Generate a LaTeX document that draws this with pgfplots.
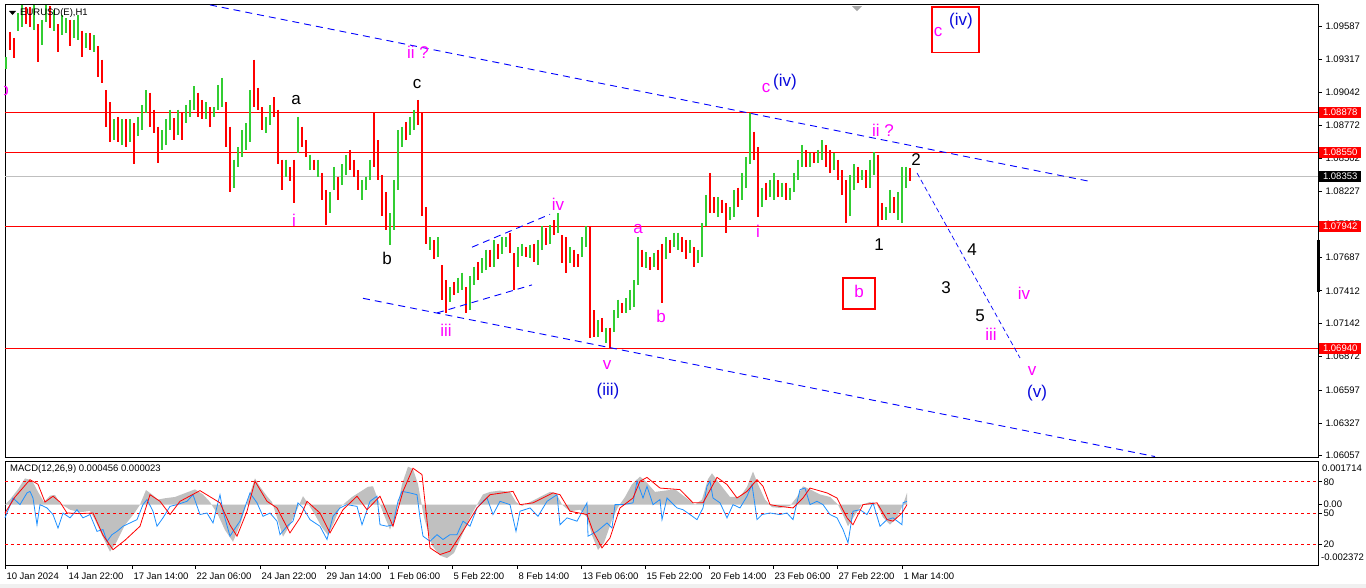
\documentclass[border=0pt]{standalone}
\usepackage{fontspec}
\setmainfont{Liberation Sans}
\usepackage{pgfplots}
\usepackage{pgfplotstable}
\pgfplotsset{compat=1.18}

\definecolor{barup}{RGB}{50,205,50}
\definecolor{bardn}{RGB}{255,0,0}
\definecolor{wmag}{RGB}{255,0,255}
\definecolor{wblue}{RGB}{10,10,220}
\definecolor{chan}{RGB}{0,0,255}
\definecolor{hist}{RGB}{192,192,192}
\definecolor{osc}{RGB}{30,144,255}

\newcommand\wl{\fontsize{17}{20}\selectfont}
\newcommand\tk{\fontsize{9.5}{11}\selectfont}

% H1 bars, sampled: x (chart position), low, high, up(1)/down(0)
\pgfplotstableread{
x lo hi d
6 1.0923 1.0933 1
10 1.0939 1.0954 0
14 1.0932 1.0949 0
18 1.0955 1.0969 1
22 1.0958 1.0976 1
26 1.0960 1.0974 0
30 1.0958 1.0974 0
34 1.0955 1.0976 1
38 1.0929 1.0960 0
42 1.0943 1.0964 1
46 1.0962 1.0976 1
50 1.0957 1.0975 0
54 1.0955 1.0972 1
58 1.0937 1.0960 0
62 1.0951 1.0968 1
66 1.0953 1.0965 1
70 1.0942 1.0964 0
74 1.0949 1.0964 1
78 1.0947 1.0968 1
82 1.0933 1.0955 0
86 1.0941 1.0953 1
90 1.0939 1.0953 0
94 1.0937 1.0951 1
98 1.0917 1.0942 0
102 1.0912 1.0931 0
106 1.0876 1.0906 0
110 1.0863 1.0896 0
114 1.0865 1.0882 1
118 1.0863 1.0884 0
122 1.0861 1.0882 1
126 1.0859 1.0882 0
130 1.0863 1.0882 1
134 1.0845 1.0879 0
138 1.0868 1.0884 1
142 1.0873 1.0894 1
146 1.0887 1.0906 1
150 1.0876 1.0904 0
154 1.0871 1.0890 0
158 1.0846 1.0876 0
162 1.0857 1.0873 1
166 1.0861 1.0882 1
170 1.0873 1.0890 1
174 1.0865 1.0883 0
178 1.0869 1.0890 1
182 1.0865 1.0888 0
186 1.0879 1.0894 1
190 1.0884 1.0898 1
194 1.0890 1.0909 1
198 1.0884 1.0904 0
202 1.0882 1.0898 0
206 1.0882 1.0896 1
210 1.0876 1.0892 0
214 1.0884 1.0892 1
218 1.0890 1.0910 1
222 1.0892 1.0916 1
226 1.0859 1.0896 0
230 1.0822 1.0876 0
234 1.0826 1.0849 1
238 1.0843 1.0859 1
242 1.0851 1.0873 1
246 1.0857 1.0879 1
250 1.0863 1.0906 1
254 1.0892 1.0931 0
258 1.0890 1.0908 0
262 1.0873 1.0892 0
266 1.0871 1.0884 1
270 1.0877 1.0894 1
274 1.0884 1.0900 0
278 1.0845 1.0890 0
282 1.0824 1.0849 0
286 1.0835 1.0849 1
290 1.0831 1.0843 0
294 1.0813 1.0849 0
298 1.0854 1.0884 1
302 1.0859 1.0876 0
306 1.0851 1.0865 0
310 1.0840 1.0853 1
314 1.0840 1.0849 0
318 1.0835 1.0849 1
322 1.0816 1.0838 0
326 1.0795 1.0824 0
330 1.0805 1.0822 1
334 1.0824 1.0843 1
338 1.0816 1.0835 0
342 1.0828 1.0845 1
346 1.0836 1.0853 1
350 1.0840 1.0857 0
354 1.0835 1.0849 0
358 1.0824 1.0840 0
362 1.0816 1.0832 1
366 1.0824 1.0835 1
370 1.0832 1.0849 1
374 1.0843 1.0887 0
378 1.0832 1.0865 0
382 1.0803 1.0836 0
386 1.0791 1.0822 0
390 1.0779 1.0805 1
394 1.0791 1.0832 1
398 1.0824 1.0873 1
402 1.0859 1.0876 1
406 1.0865 1.0880 0
410 1.0869 1.0884 1
414 1.0873 1.0890 1
418 1.0877 1.0898 0
422 1.0803 1.0887 0
426 1.0780 1.0810 0
430 1.0775 1.0785 1
434 1.0767 1.0783 0
438 1.0769 1.0785 1
442 1.0734 1.0762 0
446 1.0723 1.0750 0
450 1.0732 1.0744 1
454 1.0738 1.0748 0
458 1.0739 1.0752 1
462 1.0742 1.0756 1
466 1.0723 1.0744 0
470 1.0725 1.0753 1
474 1.0746 1.0761 1
478 1.0750 1.0765 0
482 1.0756 1.0768 1
486 1.0758 1.0775 1
490 1.0761 1.0775 0
494 1.0761 1.0783 1
498 1.0767 1.0780 0
502 1.0771 1.0785 1
506 1.0777 1.0785 1
510 1.0772 1.0789 0
514 1.0742 1.0772 0
518 1.0761 1.0777 1
522 1.0770 1.0780 1
526 1.0769 1.0777 0
530 1.0768 1.0779 1
534 1.0765 1.0780 0
538 1.0762 1.0783 1
542 1.0775 1.0794 1
546 1.0779 1.0793 0
550 1.0780 1.0795 1
554 1.0787 1.0799 0
558 1.0789 1.0805 1
562 1.0764 1.0787 0
566 1.0756 1.0785 0
570 1.0764 1.0777 1
574 1.0761 1.0775 0
578 1.0761 1.0771 0
582 1.0769 1.0785 1
586 1.0777 1.0794 1
590 1.0702 1.0794 0
594 1.0703 1.0725 0
598 1.0703 1.0717 1
602 1.0707 1.0719 0
606 1.0698 1.0711 1
610 1.0694 1.0711 0
614 1.0707 1.0725 1
618 1.0719 1.0734 1
622 1.0723 1.0731 0
626 1.0723 1.0735 1
630 1.0725 1.0742 1
634 1.0728 1.0750 1
638 1.0746 1.0785 1
642 1.0761 1.0775 0
646 1.0760 1.0773 1
650 1.0758 1.0769 0
654 1.0761 1.0772 1
658 1.0758 1.0775 0
662 1.0731 1.0780 0
666 1.0767 1.0785 1
670 1.0772 1.0783 0
674 1.0777 1.0789 1
678 1.0775 1.0789 1
682 1.0773 1.0785 0
686 1.0767 1.0783 0
690 1.0772 1.0783 1
694 1.0761 1.0777 0
698 1.0764 1.0775 1
702 1.0769 1.0797 1
706 1.0794 1.0820 1
710 1.0805 1.0838 0
714 1.0805 1.0818 0
718 1.0802 1.0818 1
722 1.0805 1.0816 0
726 1.0789 1.0813 0
730 1.0799 1.0810 1
734 1.0802 1.0824 1
738 1.0810 1.0826 0
742 1.0816 1.0838 1
746 1.0826 1.0851 1
750 1.0845 1.0887 1
754 1.0849 1.0872 0
758 1.0802 1.0859 0
762 1.0810 1.0826 1
766 1.0816 1.0830 0
770 1.0818 1.0832 1
774 1.0816 1.0838 1
778 1.0818 1.0832 0
782 1.0818 1.0830 1
786 1.0816 1.0830 0
790 1.0816 1.0826 1
794 1.0822 1.0838 1
798 1.0832 1.0849 1
802 1.0843 1.0861 1
806 1.0843 1.0857 0
810 1.0843 1.0854 1
814 1.0846 1.0854 0
818 1.0846 1.0857 1
822 1.0849 1.0865 1
826 1.0843 1.0861 0
830 1.0838 1.0857 0
834 1.0840 1.0854 1
838 1.0832 1.0849 0
842 1.0820 1.0840 0
846 1.0797 1.0832 0
850 1.0803 1.0836 1
854 1.0824 1.0845 1
858 1.0830 1.0843 0
862 1.0832 1.0840 1
866 1.0826 1.0840 0
870 1.0826 1.0849 1
874 1.0836 1.0855 1
878 1.0794 1.0853 0
882 1.0799 1.0813 0
886 1.0799 1.0810 1
890 1.0805 1.0824 1
894 1.0805 1.0818 0
898 1.0799 1.0822 1
902 1.0797 1.0843 1
906 1.0826 1.0843 1
910 1.0831 1.0842 0
}\bars

\begin{document}
\begin{tikzpicture}[x=1pt,y=1pt]
\useasboundingbox (0,0) rectangle (1366,588);
\fill[white] (0,0) rectangle (1366,588);
\fill[black!6] (0,0) rectangle (1366,4);

% ---------------- price panel ----------------
\begin{axis}[
    at={(5pt,130.5pt)}, anchor=south west, scale only axis,
    width=1313pt, height=453.5pt,
    xmin=5, xmax=1318, ymin=1.060422, ymax=1.097678,
    axis line style={line width=0.8pt},
    xtick=\empty,
    ytick pos=right, tick align=outside, major tick length=4pt,
    tick style={black, line width=0.6pt},
    ytick={1.06057,1.06327,1.06597,1.06872,1.07142,1.07412,1.07687,1.07957,1.08227,1.08502,1.08772,1.09042,1.09317,1.09587},
    yticklabels={1.06057,1.06327,1.06597,1.06872,1.07142,1.07412,1.07687,1.07957,1.08227,1.08502,1.08772,1.09042,1.09317,1.09587},
    yticklabel style={font=\tk},
    clip=false,
  ]
  % levels
  \addplot[black!25, line width=0.8pt] coordinates {(5,1.08353) (1318,1.08353)};
  \addplot[red, line width=1pt] coordinates {(5,1.08878) (1318,1.08878)};
  \addplot[red, line width=1pt] coordinates {(5,1.08550) (1318,1.08550)};
  \addplot[red, line width=1pt] coordinates {(5,1.07942) (1318,1.07942)};
  \addplot[red, line width=1pt] coordinates {(5,1.06940) (1318,1.06940)};

  % bars
  \addplot[draw=none, mark=none, forget plot,
    x filter/.expression={\thisrow{d}==1 ? x : nan},
    error bars/.cd, y dir=minus, y explicit, error mark=none,
    error bar style={draw=barup, line width=2.4pt}]
    table[x=x, y=hi, y error expr=\thisrow{hi}-\thisrow{lo}] {\bars};
  \addplot[draw=none, mark=none, forget plot,
    x filter/.expression={\thisrow{d}==0 ? x : nan},
    error bars/.cd, y dir=minus, y explicit, error mark=none,
    error bar style={draw=bardn, line width=2.4pt}]
    table[x=x, y=hi, y error expr=\thisrow{hi}-\thisrow{lo}] {\bars};

  % channel lines
  \addplot[chan, line width=0.9pt, dash pattern=on 7pt off 5pt] coordinates {(210,1.0976) (1090,1.0831)};
  \addplot[chan, line width=0.9pt, dash pattern=on 7pt off 5pt] coordinates {(363,1.0735) (1155,1.0605)};
  \addplot[chan, line width=0.9pt, dash pattern=on 7pt off 5pt] coordinates {(472,1.0777) (550,1.0804)};
  \addplot[chan, line width=0.9pt, dash pattern=on 7pt off 5pt] coordinates {(437,1.0723) (532,1.0746)};
  \addplot[chan, line width=0.7pt, dash pattern=on 5pt off 3pt] coordinates {(917,1.0838) (1020,1.0686)};

  % wave labels
  \begin{scope}
    \clip (axis cs:5,1.0930) rectangle (axis cs:30,1.0885);
    \node[text=wmag, font=\wl] at (axis cs:4,1.0907) {b};
  \end{scope}
  \node[text=wmag, font=\wl] at (axis cs:418,1.0937) {ii ?};
  \node[text=black, font=\wl] at (axis cs:417,1.0911) {c};
  \node[text=black, font=\wl] at (axis cs:296,1.0898) {a};
  \node[text=wmag, font=\wl] at (axis cs:294,1.0799) {i};
  \node[text=black, font=\wl] at (axis cs:387,1.0768) {b};
  \node[text=wmag, font=\wl] at (axis cs:446,1.0709) {iii};
  \node[text=wmag, font=\wl] at (axis cs:558,1.0812) {iv};
  \node[text=wmag, font=\wl] at (axis cs:638,1.0792) {a};
  \node[text=wmag, font=\wl] at (axis cs:661,1.0720) {b};
  \node[text=wmag, font=\wl] at (axis cs:607,1.0680) {v};
  \node[text=wblue, font=\wl] at (axis cs:608,1.0659) {(iii)};
  \node[text=wmag, font=\wl] at (axis cs:766,1.0908) {c};
  \node[text=wblue, font=\wl] at (axis cs:785,1.0913) {(iv)};
  \node[text=wmag, font=\wl] at (axis cs:883,1.0873) {ii ?};
  \node[text=black, font=\wl] at (axis cs:916,1.0849) {2};
  \node[text=wmag, font=\wl] at (axis cs:758,1.0790) {i};
  \node[text=black, font=\wl] at (axis cs:879,1.0779) {1};
  \draw[red, line width=1.8pt] (axis cs:843,1.0752) rectangle (axis cs:875,1.0726);
  \node[text=wmag, font=\wl] at (axis cs:859,1.0741) {b};
  \node[text=black, font=\wl] at (axis cs:946,1.0744) {3};
  \node[text=black, font=\wl] at (axis cs:972,1.0775) {4};
  \node[text=black, font=\wl] at (axis cs:980,1.0721) {5};
  \node[text=wmag, font=\wl] at (axis cs:991,1.0705) {iii};
  \node[text=wmag, font=\wl] at (axis cs:1024,1.0739) {iv};
  \node[text=wmag, font=\wl] at (axis cs:1032,1.0675) {v};
  \node[text=wblue, font=\wl] at (axis cs:1037,1.0657) {(v)};
  \draw[red, line width=1.8pt] (axis cs:932,1.0974) rectangle (axis cs:979,1.0937);
  \node[text=wmag, font=\wl] at (axis cs:938,1.0954) {c};
  \node[text=wblue, font=\wl] at (axis cs:961,1.0963) {(iv)};

  % price labels on the scale
  \node[fill=red, text=white, font=\tk, minimum width=42pt, minimum height=11pt, inner sep=0pt, anchor=west] at (axis cs:1319,1.08878) {1.08878};
  \node[fill=red, text=white, font=\tk, minimum width=42pt, minimum height=11pt, inner sep=0pt, anchor=west] at (axis cs:1319,1.08550) {1.08550};
  \node[fill=black, text=white, font=\tk, minimum width=42pt, minimum height=11pt, inner sep=0pt, anchor=west] at (axis cs:1319,1.08353) {1.08353};
  \node[fill=red, text=white, font=\tk, minimum width=42pt, minimum height=11pt, inner sep=0pt, anchor=west] at (axis cs:1319,1.07942) {1.07942};
  \node[fill=red, text=white, font=\tk, minimum width=42pt, minimum height=11pt, inner sep=0pt, anchor=west] at (axis cs:1319,1.06940) {1.06940};
  \draw[line width=3pt] (axis cs:1318,1.0783) -- (axis cs:1318,1.0740);
  \fill[black!35] (axis cs:852,1.0975) -- (axis cs:862,1.0975) -- (axis cs:857,1.0971) -- cycle;
\end{axis}

% ---------------- MACD panel ----------------
\begin{axis}[
    at={(5pt,23pt)}, anchor=south west, scale only axis,
    width=1313pt, height=104pt,
    xmin=5, xmax=1318, ymin=-23.72, ymax=17.14,
    axis line style={line width=0.8pt},
    xtick={5,67,132,195,260,325,388,452,517,581,645,709,773,837,902},
    xticklabels={10 Jan 2024,14 Jan 22:00,17 Jan 14:00,22 Jan 06:00,24 Jan 22:00,29 Jan 14:00,1 Feb 06:00,5 Feb 22:00,8 Feb 14:00,13 Feb 06:00,15 Feb 22:00,20 Feb 14:00,23 Feb 06:00,27 Feb 22:00,1 Mar 14:00},
    xtick pos=bottom, ytick pos=right, tick align=outside, major tick length=4pt,
    tick style={black, line width=0.6pt},
    xticklabel style={font=\tk, anchor=north west, xshift=-2pt},
    ytick={-15.55,-3.29,0,8.97}, yticklabels={20,50,0.00,80},
    yticklabel style={font=\tk, xshift=-2pt},
    clip=false,
  ]
  % histogram (x1e-4)
  \addplot[fill=hist, draw=none] coordinates {
    (5,0) (10,2) (18,6) (25,10.3) (32,9.5) (38,5) (44,1) (50,3.5) (55,3.8) (60,0.5)
    (70,-2) (80,-3) (90,-2.5) (95,-6) (102,-12) (110,-18.5) (116,-15) (125,-8) (135,-3) (140,0)
    (146,5.7) (152,4) (158,2) (165,2.5) (175,3) (185,4.5) (195,6) (203,4) (210,1) (218,-4)
    (225,-10) (233,-14.6) (240,-8) (248,2) (255,10.3) (260,7) (267,3.3) (272,1) (277,-5) (283,-12.6)
    (290,-8) (297,-2) (303,3.3) (308,0.5) (315,-4) (322,-9) (328,-12) (334,-7) (340,-1) (346,1)
    (352,3) (360,5) (368,7) (373,7.2) (378,2) (385,-5) (390,-9.8) (396,-4) (402,8) (408,14.9)
    (413,14) (418,8) (424,-5) (432,-16) (440,-20) (447,-21) (454,-19) (462,-12) (470,-5) (477,0)
    (483,4) (490,5) (500,5.5) (510,5) (516,1) (522,-0.5) (530,1) (540,3) (550,5) (556,4.5)
    (562,0) (570,-2.6) (580,-2) (587,-5) (592,-12) (598,-17.8) (604,-15) (612,-6) (618,-1) (625,3)
    (632,8) (640,11) (646,9) (655,5) (665,5.5) (675,6) (685,3) (695,0) (702,2) (708,10)
    (712,12.3) (720,8) (730,3) (740,3) (747,7) (753,13) (758,8) (765,2) (772,-1) (780,-1.3)
    (790,-0.5) (797,3) (803,7.2) (810,6) (820,4) (830,3) (838,0) (843,-4) (848,-8.5) (855,-4)
    (862,0) (870,1) (877,0) (883,-5) (890,-7.9) (897,-5) (903,0) (907,4.6)
  } \closedcycle;

  % levels 80 / 50 / 20
  \addplot[red, line width=0.8pt, dash pattern=on 3pt off 3pt] coordinates {(5,8.97) (1318,8.97)};
  \addplot[red, line width=0.8pt, dash pattern=on 3pt off 3pt] coordinates {(5,-3.29) (1318,-3.29)};
  \addplot[red, line width=0.8pt, dash pattern=on 3pt off 3pt] coordinates {(5,-15.55) (1318,-15.55)};

  % oscillator (blue)
  \addplot[osc, line width=0.8pt] coordinates {
    (5,-5.2) (13,2.6) (20,0) (27,4.6) (30,5.2) (33,2.6) (37,-7.9) (40,0) (47,-1.3) (53,-3.9)
    (58,-9.2) (63,-3.3) (70,-5.2) (77,-2) (83,-5.2) (90,-3.9) (97,-10.5) (103,-9.8) (107,-14.4) (112,-11.8)
    (117,-10.5) (123,-8.5) (130,-7.2) (137,-5.9) (143,0) (147,2) (153,-2.6) (157,-8.5) (163,-5.2) (170,-0.7)
    (177,0) (187,1.3) (193,3.9) (200,-3.9) (207,-3.3) (213,-7.2) (220,3.9) (223,-2.6) (230,-12.4) (233,-10.5)
    (240,-6.5) (247,1.3) (250,4.6) (257,0.7) (263,-4.6) (270,-3.3) (277,-6.5) (280,-11.8) (287,-8.5) (293,-6.5)
    (298,0.7) (303,-1.3) (310,-5.9) (320,-8.5) (327,-13.7) (333,-4.6) (340,-1.3) (347,0) (357,-0.7) (362,-7.9)
    (370,1.3) (377,3.3) (380,-7.9) (387,-8.5) (393,-7.9) (398,1.3) (402,5.2) (410,4.6) (417,3.9) (420,-5.2)
    (423,-12.4) (430,-14.4) (437,-11.8) (443,-13.7) (450,-11.8) (457,-11.8) (463,-6.5) (470,-8.5) (477,-1.3) (483,1.3)
    (487,2.6) (493,-3.9) (500,1.3) (510,0) (516,-10.5) (520,-2.6) (530,-1.3) (538,-4.6) (547,1.3) (557,3.9)
    (560,-7.9) (567,-5.2) (577,-6.5) (587,0.7) (588,-12.4) (597,-10.5) (607,-7.2) (612,-9.2) (615,0) (623,0)
    (633,0.7) (637,9.2) (643,2.6) (647,7.2) (653,0) (660,2) (662,-5.9) (667,2.6) (677,-1.3) (683,-2)
    (690,-3.9) (697,-5.9) (703,-1.3) (707,7.2) (710,9.2) (713,2.6) (720,0.7) (727,-5.2) (733,0) (740,-1.3)
    (747,3.3) (752,7.9) (757,-5.9) (762,-3.9) (770,-3.3) (780,-3.9) (787,-3.3) (793,-5.9) (800,5.9) (805,6.5)
    (810,0) (817,1.3) (823,0) (830,-3.9) (837,-5.2) (843,-9.8) (848,-15) (853,-2.6) (860,-2) (867,-3.9)
    (873,0.7) (880,-8.5) (887,-5.9) (893,-5.2) (902,-7.9) (903,0.7) (907,1.3)
  };

  % signal (red)
  \addplot[red, line width=0.8pt] coordinates {
    (5,-3.3) (15,3) (30,9.8) (38,8) (45,1) (53,3.3) (60,1) (67,-3.3) (80,-3.5) (93,-3.3)
    (103,-12) (113,-17.7) (125,-14) (140,-8.5) (150,3.9) (160,1.3) (170,-3.9) (180,1.3) (200,5.5) (220,0.7)
    (230,-8) (237,-12.4) (247,-2.6) (255,9.2) (267,1.3) (277,-1.3) (290,-11.1) (300,-5.2) (307,1.3) (320,-3.3)
    (330,-11.1) (343,-2) (357,3.3) (367,-2) (380,3.3) (393,-8.5) (403,5.2) (413,14.3) (422,11.8) (430,-17)
    (440,-19.6) (450,-18.3) (463,-10.4) (477,-1.3) (490,3.9) (513,5.2) (520,0) (533,0.7) (553,4.6) (560,3.9)
    (570,-2.6) (587,-3.9) (593,-10.5) (602,-17) (610,-13.1) (620,-1.3) (633,2.6) (640,9.2) (647,10.7) (660,6.5)
    (680,5.9) (693,0.7) (703,0.7) (717,10.7) (727,7.9) (737,2.6) (747,5.2) (757,9.8) (763,7.2) (770,0)
    (780,-0.7) (793,-1.3) (803,2.6) (810,6.5) (827,4.6) (837,2.6) (847,-5.2) (853,-7.9) (863,0) (877,0.7)
    (887,-5.9) (893,-6.5) (902,-3.3) (907,0)
  };
\end{axis}

% titles and extreme values of the MACD scale
\fill (9,577) -- (16,577) -- (12.5,573) -- cycle;
\node[anchor=west, font=\tk, inner sep=0pt] at (20,575) {EURUSD(E),H1};
\node[anchor=west, font=\tk, inner sep=0pt] at (10,119) {MACD(12,26,9) 0.000456 0.000023};
\node[anchor=west, font=\tk, inner sep=0pt] at (1322,120) {0.001714};
\node[anchor=west, font=\tk, inner sep=0pt] at (1321,31) {-0.002372};
\end{tikzpicture}
\end{document}
